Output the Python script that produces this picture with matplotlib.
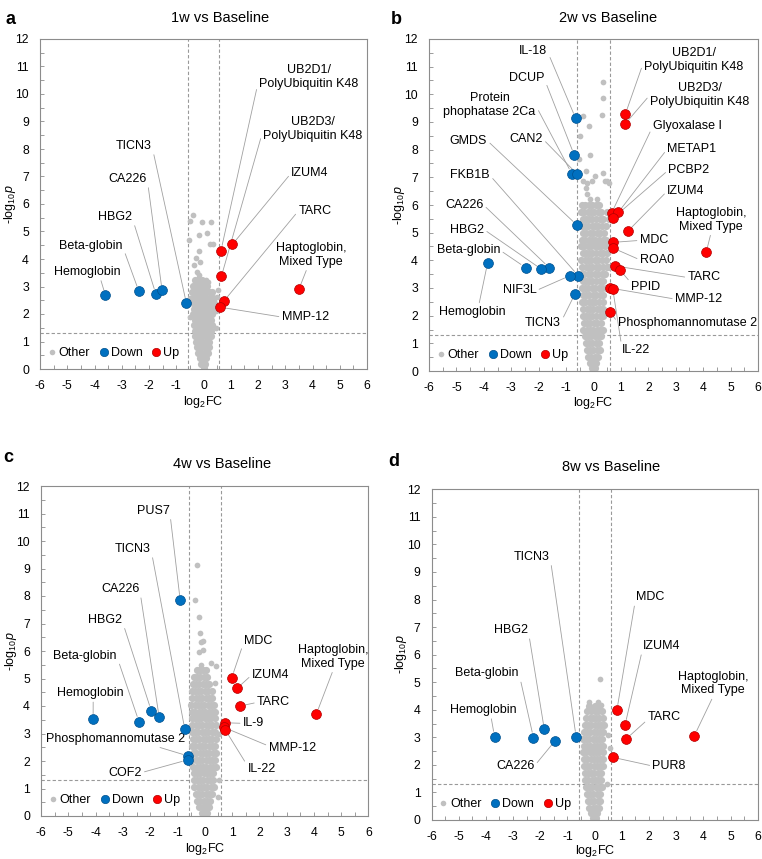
import matplotlib
matplotlib.use("Agg")
import matplotlib.pyplot as plt
from matplotlib.lines import Line2D
from matplotlib.ticker import MultipleLocator

plt.rcParams["font.family"] = ["Liberation Sans", "DejaVu Sans"]
plt.rcParams["mathtext.fontset"] = "custom"
plt.rcParams["mathtext.rm"] = "Liberation Sans"
plt.rcParams["mathtext.it"] = "Liberation Sans:italic"
plt.rcParams["mathtext.bf"] = "Liberation Sans:bold"
plt.rcParams["axes.unicode_minus"] = False

# ---------------- data ----------------
TITLES = ["1w vs Baseline", "2w vs Baseline", "4w vs Baseline", "8w vs Baseline"]
LETTERS = ["a", "b", "c", "d"]
FC_CUT = 0.585
P_CUT = 1.301
X_TICKS = list(range(-6, 7))
Y_TICKS = list(range(0, 13))

# ---- panel a ----
down_a_names = ["Hemoglobin", "Beta-globin", "HBG2", "CA226", "TICN3"]
down_a_x = [-3.60, -2.37, -1.75, -1.52, -0.63]
down_a_y = [2.68, 2.82, 2.73, 2.86, 2.40]
up_a_names = ["UB2D1/\nPolyUbiquitin K48", "IZUM4", "UB2D3/\nPolyUbiquitin K48",
              "TARC", "MMP-12", "Haptoglobin,\nMixed Type"]
up_a_x = [0.64, 1.06, 0.66, 0.74, 0.60, 3.50]
up_a_y = [4.30, 4.53, 3.38, 2.46, 2.25, 2.90]
other_a_rows = {
    3.22: [-0.33, -0.21, -0.06],
    3.01: [-0.39, -0.27, -0.13, 0.01, 0.12],
    2.80: [-0.41, -0.31, -0.19, -0.07, 0.06, 0.19, 0.30],
    2.60: [-0.36, -0.24, -0.13, -0.01, 0.11, 0.23, 0.34],
    2.40: [-0.40, -0.29, -0.17, -0.05, 0.07, 0.18, 0.29, 0.38],
    2.20: [-0.34, -0.23, -0.11, 0.02, 0.14, 0.25, 0.36],
    2.00: [-0.39, -0.28, -0.16, -0.04, 0.08, 0.21, 0.32],
    1.80: [-0.33, -0.22, -0.10, 0.02, 0.14, 0.26],
    1.60: [-0.36, -0.24, -0.12, 0.00, 0.12, 0.24, 0.33],
    1.40: [-0.30, -0.18, -0.06, 0.06, 0.18, 0.28],
    1.20: [-0.32, -0.20, -0.08, 0.04, 0.16, 0.26],
    1.00: [-0.28, -0.16, -0.04, 0.08, 0.20],
    0.80: [-0.24, -0.12, 0.00, 0.12, 0.22],
    0.60: [-0.20, -0.08, 0.04, 0.16],
    0.40: [-0.14, -0.02, 0.10],
    0.20: [-0.08, 0.04],
    0.05: [0.00],
}
other_a_extra = [(-0.40, 5.60), (-0.48, 5.38), (-0.07, 5.36), (0.27, 5.36), (0.14, 4.93),
                 (-0.15, 4.87), (-0.53, 4.69), (0.24, 4.53), (0.36, 4.53), (-0.15, 4.29),
                 (-0.27, 4.05), (-0.13, 3.90), (-0.34, 3.78), (-0.25, 3.54), (-0.15, 3.42),
                 (0.09, 3.24), (0.18, 3.18), (0.55, 2.87), (0.40, 2.55), (0.50, 2.62),
                 (0.46, 2.10), (-0.48, 2.60), (-0.50, 1.90), (0.45, 1.50)]

# ---- panel b ----
down_b_names = ["IL-18", "DCUP", "Protein\nphophatase 2Ca", "CAN2", "GMDS", "FKB1B",
                "NIF3L", "CA226", "HBG2", "Beta-globin", "Hemoglobin", "TICN3"]
down_b_x = [-0.65, -0.70, -0.79, -0.61, -0.60, -0.56, -0.87, -1.62, -1.90, -2.48, -3.86, -0.68]
down_b_y = [9.13, 7.80, 7.13, 7.13, 5.27, 3.45, 3.44, 3.74, 3.68, 3.74, 3.92, 2.78]
up_b_names = ["UB2D1/\nPolyUbiquitin K48", "UB2D3/\nPolyUbiquitin K48", "Glyoxalase I",
              "METAP1", "PCBP2", "IZUM4", "MDC", "ROA0", "TARC", "PPID", "MMP-12", "IL-22",
              "Phosphomannomutase 2", "Haptoglobin,\nMixed Type"]
up_b_x = [1.16, 1.16, 0.66, 0.90, 0.72, 1.25, 0.72, 0.70, 0.78, 0.96, 0.60, 0.70, 0.61, 4.11]
up_b_y = [9.28, 8.94, 5.71, 5.73, 5.53, 5.05, 4.65, 4.45, 3.80, 3.66, 3.00, 2.98, 2.13, 4.29]
other_b_rows = {
    6.00: [-0.42, -0.30, -0.18, -0.06, 0.08, 0.20],
    5.75: [-0.45, -0.33, -0.21, -0.09, 0.03, 0.16, 0.28, 0.50, 0.62],
    5.50: [-0.40, -0.28, -0.16, -0.04, 0.09, 0.22, 0.35, 0.55],
    5.25: [-0.43, -0.31, -0.19, -0.07, 0.06, 0.18, 0.31, 0.44],
    5.00: [-0.38, -0.26, -0.14, -0.02, 0.11, 0.24, 0.38],
    4.75: [-0.42, -0.30, -0.18, -0.06, 0.07, 0.20, 0.33, 0.46],
    4.50: [-0.45, -0.33, -0.21, -0.09, 0.04, 0.16, 0.29, 0.42],
    4.25: [-0.40, -0.28, -0.16, -0.04, 0.09, 0.22, 0.35, 0.50],
    4.00: [-0.44, -0.32, -0.20, -0.08, 0.05, 0.18, 0.31, 0.45],
    3.75: [-0.41, -0.29, -0.17, -0.05, 0.08, 0.21, 0.34, 0.48, 0.58],
    3.50: [-0.45, -0.33, -0.21, -0.09, 0.04, 0.17, 0.30, 0.43],
    3.25: [-0.40, -0.28, -0.16, -0.04, 0.09, 0.22, 0.35],
    3.00: [-0.43, -0.31, -0.19, -0.07, 0.06, 0.19, 0.32, 0.45],
    2.75: [-0.39, -0.27, -0.15, -0.03, 0.10, 0.23, 0.36],
    2.50: [-0.42, -0.30, -0.18, -0.06, 0.07, 0.20, 0.33],
    2.25: [-0.37, -0.25, -0.13, -0.01, 0.12, 0.25, 0.36],
    2.00: [-0.40, -0.28, -0.16, -0.04, 0.09, 0.22, 0.34],
    1.75: [-0.35, -0.23, -0.11, 0.01, 0.14, 0.27],
    1.50: [-0.37, -0.25, -0.13, -0.01, 0.12, 0.25, 0.34],
    1.25: [-0.32, -0.20, -0.08, 0.04, 0.17, 0.29],
    1.00: [-0.29, -0.17, -0.05, 0.08, 0.20],
    0.75: [-0.25, -0.13, -0.01, 0.12, 0.22],
    0.50: [-0.20, -0.08, 0.04, 0.16],
    0.30: [-0.14, -0.02, 0.10],
    0.12: [-0.07, 0.05],
}
other_b_extra = [(0.33, 10.45), (0.33, 9.88), (0.30, 9.25), (-0.37, 9.21), (-0.18, 8.87),
                 (-0.50, 8.51), (-0.13, 7.80), (-0.52, 7.66), (-0.26, 7.22), (0.33, 7.16),
                 (0.51, 6.86), (0.57, 6.80), (-0.37, 6.87), (-0.24, 6.80), (-0.05, 6.87),
                 (0.41, 6.86), (0.05, 7.04), (-0.27, 6.62), (-0.24, 6.38), (-0.12, 6.20),
                 (0.12, 6.20)]

# ---- panel c ----
down_c_names = ["PUS7", "TICN3", "CA226", "HBG2", "Beta-globin", "Hemoglobin",
                "Phosphomannomutase 2", "COF2"]
down_c_x = [-0.90, -0.73, -1.67, -1.96, -2.41, -4.09, -0.60, -0.63]
down_c_y = [7.85, 3.15, 3.59, 3.83, 3.43, 3.52, 2.18, 2.04]
up_c_names = ["MDC", "IZUM4", "TARC", "IL-9", "MMP-12", "IL-22", "Haptoglobin,\nMixed Type"]
up_c_x = [0.99, 1.18, 1.29, 0.75, 0.71, 0.76, 4.09]
up_c_y = [5.03, 4.64, 4.00, 3.39, 3.22, 3.12, 3.71]
other_c_rows = {
    5.30: [-0.30, -0.18, -0.06, 0.04],
    5.05: [-0.40, -0.28, -0.16, -0.04, 0.08],
    4.80: [-0.44, -0.32, -0.20, -0.08, 0.04, 0.16],
    4.55: [-0.48, -0.36, -0.24, -0.12, 0.00, 0.12, 0.25],
    4.30: [-0.45, -0.33, -0.21, -0.09, 0.03, 0.15, 0.27],
    4.05: [-0.49, -0.37, -0.25, -0.13, -0.01, 0.11, 0.23, 0.33],
    3.80: [-0.46, -0.34, -0.22, -0.10, 0.02, 0.14, 0.26, 0.37],
    3.55: [-0.48, -0.36, -0.24, -0.12, 0.00, 0.12, 0.24, 0.36],
    3.30: [-0.45, -0.33, -0.21, -0.09, 0.03, 0.15, 0.27, 0.40],
    3.05: [-0.47, -0.35, -0.23, -0.11, 0.01, 0.13, 0.25, 0.37],
    2.80: [-0.44, -0.32, -0.20, -0.08, 0.04, 0.16, 0.28, 0.40],
    2.55: [-0.46, -0.34, -0.22, -0.10, 0.02, 0.14, 0.26, 0.38],
    2.30: [-0.43, -0.31, -0.19, -0.07, 0.05, 0.17, 0.29, 0.41],
    2.05: [-0.45, -0.33, -0.21, -0.09, 0.03, 0.15, 0.27, 0.39],
    1.80: [-0.42, -0.30, -0.18, -0.06, 0.06, 0.18, 0.30, 0.40],
    1.55: [-0.40, -0.28, -0.16, -0.04, 0.08, 0.20, 0.32],
    1.30: [-0.41, -0.29, -0.17, -0.05, 0.07, 0.19, 0.31],
    1.05: [-0.38, -0.26, -0.14, -0.02, 0.10, 0.22, 0.34],
    0.80: [-0.33, -0.21, -0.09, 0.03, 0.15, 0.27],
    0.55: [-0.28, -0.16, -0.04, 0.08, 0.20],
    0.32: [-0.20, -0.08, 0.04, 0.16],
    0.12: [-0.10, 0.02, 0.10],
    0.03: [-0.03],
}
other_c_extra = [(-0.29, 9.13), (-0.35, 7.85), (-0.20, 7.25), (-0.17, 6.65), (-0.14, 6.34),
                 (-0.08, 6.36), (-0.20, 5.97), (-0.08, 6.04), (0.23, 5.55), (0.41, 5.45),
                 (-0.14, 5.50), (0.39, 4.85), (0.53, 3.00), (0.53, 1.30), (0.50, 0.70)]

# ---- panel d ----
down_d_names = ["Hemoglobin", "Beta-globin", "HBG2", "CA226", "TICN3"]
down_d_x = [-3.68, -2.25, -1.85, -1.45, -0.68]
down_d_y = [3.02, 2.99, 3.29, 2.88, 3.02]
up_d_names = ["MDC", "IZUM4", "TARC", "PUR8", "Haptoglobin,\nMixed Type"]
up_d_x = [0.82, 1.12, 1.16, 0.69, 3.67]
up_d_y = [3.99, 3.45, 2.94, 2.27, 3.06]
other_d_rows = {
    4.15: [-0.20, 0.00, 0.16],
    3.95: [-0.28, -0.14, 0.02, 0.14, 0.26],
    3.70: [-0.30, -0.18, -0.06, 0.06, 0.18, 0.30],
    3.45: [-0.36, -0.24, -0.12, 0.00, 0.12, 0.24, 0.35],
    3.20: [-0.40, -0.28, -0.16, -0.04, 0.08, 0.20, 0.32],
    2.95: [-0.43, -0.31, -0.19, -0.07, 0.05, 0.17, 0.29],
    2.70: [-0.40, -0.28, -0.16, -0.04, 0.08, 0.20, 0.32],
    2.45: [-0.42, -0.30, -0.18, -0.06, 0.06, 0.18, 0.30],
    2.20: [-0.39, -0.27, -0.15, -0.03, 0.09, 0.21, 0.31],
    1.95: [-0.40, -0.28, -0.16, -0.04, 0.08, 0.20, 0.30],
    1.70: [-0.37, -0.25, -0.13, -0.01, 0.11, 0.23],
    1.45: [-0.35, -0.23, -0.11, 0.01, 0.13, 0.25],
    1.20: [-0.32, -0.20, -0.08, 0.04, 0.16, 0.26],
    0.95: [-0.29, -0.17, -0.05, 0.07, 0.19],
    0.70: [-0.25, -0.13, -0.01, 0.11, 0.20],
    0.45: [-0.19, -0.07, 0.05, 0.15],
    0.25: [-0.12, 0.00, 0.10],
    0.08: [-0.05, 0.05],
}
other_d_extra = [(0.21, 5.12), (-0.19, 4.29), (0.12, 4.29), (0.24, 4.17), (0.51, 3.10),
                 (0.44, 1.31), (0.58, 2.60)]

# ---------------- layout (label placement, not data) ----------------
# name: (text x, text y, relpos of leader line on text box)
LAYOUT = [
    {
        "Hemoglobin": (-4.28, 3.53, (0.7, 0.0)),
        "Beta-globin": (-4.14, 4.47, (1, 0.5)),
        "HBG2": (-3.25, 5.53, (1, 0.5)),
        "CA226": (-2.77, 6.91, (1, 0.5)),
        "TICN3": (-2.55, 8.11, (1, 0.5)),
        "UB2D1/\nPolyUbiquitin K48": (3.87, 10.62, (0, 0.5)),
        "UB2D3/\nPolyUbiquitin K48": (4.02, 8.73, (0, 0.5)),
        "IZUM4": (3.91, 7.13, (0, 0.5)),
        "TARC": (4.09, 5.75, (0, 0.5)),
        "Haptoglobin,\nMixed Type": (3.94, 4.15, (0.45, 0.0)),
        "MMP-12": (3.73, 1.89, (0, 0.5)),
    },
    {
        "IL-18": (-2.20, 11.57, (1, 0.5)),
        "DCUP": (-2.45, 10.58, (1, 0.5)),
        "Protein\nphophatase 2Ca": (-3.79, 9.60, (1, 0.5)),
        "CAN2": (-2.46, 8.39, (1, 0.5)),
        "GMDS": (-4.56, 8.33, (1, 0.5)),
        "FKB1B": (-4.50, 7.07, (1, 0.5)),
        "CA226": (-4.72, 6.01, (1, 0.5)),
        "HBG2": (-4.61, 5.11, (1, 0.5)),
        "Beta-globin": (-4.56, 4.36, (1, 0.5)),
        "Hemoglobin": (-4.43, 2.15, (0.6, 1.0)),
        "NIF3L": (-2.70, 2.91, (1, 0.5)),
        "TICN3": (-1.85, 1.75, (1, 0.5)),
        "UB2D1/\nPolyUbiquitin K48": (3.66, 11.23, (0, 0.5)),
        "UB2D3/\nPolyUbiquitin K48": (3.87, 9.98, (0, 0.5)),
        "Glyoxalase I": (3.42, 8.85, (0, 0.5)),
        "METAP1": (3.59, 8.03, (0, 0.5)),
        "PCBP2": (3.48, 7.26, (0, 0.5)),
        "IZUM4": (3.37, 6.50, (0, 0.5)),
        "Haptoglobin,\nMixed Type": (4.29, 5.47, (0.5, 0.0)),
        "MDC": (2.20, 4.72, (0, 0.5)),
        "ROA0": (2.31, 4.02, (0, 0.5)),
        "TARC": (4.03, 3.38, (0, 0.5)),
        "PPID": (1.90, 3.05, (0, 0.8)),
        "MMP-12": (3.83, 2.60, (0, 0.5)),
        "Phosphomannomutase 2": (3.44, 1.73, (0, 0.5)),
        "IL-22": (1.55, 0.76, (0, 0.7)),
    },
    {
        "PUS7": (-1.89, 11.10, (1, 0.5)),
        "TICN3": (-2.63, 9.71, (1, 0.5)),
        "CA226": (-3.09, 8.25, (1, 0.5)),
        "HBG2": (-3.66, 7.13, (1, 0.5)),
        "Beta-globin": (-4.39, 5.82, (1, 0.5)),
        "Hemoglobin": (-4.21, 4.46, (0.55, 0.0)),
        "Phosphomannomutase 2": (-3.25, 2.81, (0.75, 0.0)),
        "COF2": (-2.92, 1.58, (1, 0.5)),
        "MDC": (1.97, 6.38, (0, 0.5)),
        "IZUM4": (2.41, 5.13, (0, 0.5)),
        "TARC": (2.52, 4.13, (0, 0.5)),
        "IL-9": (1.78, 3.37, (0, 0.5)),
        "MMP-12": (3.20, 2.46, (0, 0.7)),
        "IL-22": (2.08, 1.70, (0, 0.8)),
        "Haptoglobin,\nMixed Type": (4.71, 5.79, (0.5, 0.0)),
    },
    {
        "TICN3": (-2.30, 9.55, (1, 0.5)),
        "HBG2": (-3.07, 6.89, (1, 0.5)),
        "Beta-globin": (-3.95, 5.32, (1, 0.5)),
        "Hemoglobin": (-4.11, 3.99, (0.62, 0.0)),
        "CA226": (-2.92, 1.96, (1, 0.5)),
        "MDC": (2.04, 8.08, (0, 0.5)),
        "IZUM4": (2.48, 6.31, (0, 0.5)),
        "TARC": (2.56, 3.73, (0, 0.3)),
        "Haptoglobin,\nMixed Type": (4.36, 4.95, (0.5, 0.0)),
        "PUR8": (2.74, 1.96, (0, 0.5)),
    },
]

W, H = 762, 859
AX_PX = [(40, 39, 367, 369), (429, 39, 758, 371), (41, 486, 368.5, 816), (431.5, 489.3, 757.7, 820)]
TITLE_PX = [(220, 17.5), (607.7, 17.5), (221.7, 464), (611, 467)]
LETTER_PX = [(10, 20), (396, 19), (8, 458), (394, 462)]
XLABEL_OFF = [-0.075, -0.073, -0.077, -0.07]

GRAY = "#C0C0C0"
BLUE = "#0070C0"
BLUE_EDGE = "#00508C"
RED = "#FF0000"
RED_EDGE = "#B00000"
SPINE = "#8C8C8C"
LEAD = "#A0A0A0"

panels = [
    (other_a_rows, other_a_extra, down_a_names, down_a_x, down_a_y, up_a_names, up_a_x, up_a_y),
    (other_b_rows, other_b_extra, down_b_names, down_b_x, down_b_y, up_b_names, up_b_x, up_b_y),
    (other_c_rows, other_c_extra, down_c_names, down_c_x, down_c_y, up_c_names, up_c_x, up_c_y),
    (other_d_rows, other_d_extra, down_d_names, down_d_x, down_d_y, up_d_names, up_d_x, up_d_y),
]

fig = plt.figure(figsize=(W / 100, H / 100), dpi=100)

for i, (rows, extra, dn, dx, dy, un, ux, uy) in enumerate(panels):
    x0, y0, x1, y1 = AX_PX[i]
    ax = fig.add_axes([x0 / W, 1 - y1 / H, (x1 - x0) / W, (y1 - y0) / H])

    cx, cy = [], []
    for yv, xs in rows.items():
        for xv in xs:
            cx.append(xv)
            cy.append(yv)
    ex = [p[0] for p in extra]
    ey = [p[1] for p in extra]

    ax.axvline(-FC_CUT, color="#999999", lw=0.8, ls=(0, (3, 2)), zorder=1)
    ax.axvline(FC_CUT, color="#999999", lw=0.8, ls=(0, (3, 2)), zorder=1)
    ax.axhline(P_CUT, color="#999999", lw=0.8, ls=(0, (3, 2)), zorder=1)

    ax.scatter(cx, cy, s=27, c=GRAY, linewidths=0, zorder=2)
    ax.scatter(ex, ey, s=17, c=GRAY, linewidths=0, zorder=2)
    ax.scatter(dx, dy, s=50, c=BLUE, edgecolors=BLUE_EDGE, linewidths=0.5, zorder=4)
    ax.scatter(ux, uy, s=50, c=RED, edgecolors=RED_EDGE, linewidths=0.5, zorder=4)

    lay = LAYOUT[i]
    for names, xs, ys in ((dn, dx, dy), (un, ux, uy)):
        for nm, px, py in zip(names, xs, ys):
            if nm not in lay:
                continue
            tx, ty, rp = lay[nm]
            ax.annotate(nm, xy=(px, py), xytext=(tx, ty), textcoords="data",
                        ha="center", va="center", fontsize=9, zorder=3,
                        annotation_clip=False,
                        arrowprops=dict(arrowstyle="-", color=LEAD, lw=0.6,
                                        relpos=rp, shrinkA=0, shrinkB=4))

    ax.set_xlim(X_TICKS[0], X_TICKS[-1])
    ax.set_ylim(Y_TICKS[0], Y_TICKS[-1])
    ax.set_xticks(X_TICKS)
    ax.set_yticks(Y_TICKS)
    ax.xaxis.set_minor_locator(MultipleLocator(0.5))
    ax.yaxis.set_minor_locator(MultipleLocator(0.5))
    ax.tick_params(which="both", direction="in", length=3, width=0.6, color=SPINE,
                   labelsize=8.8, pad=8)
    for sp in ax.spines.values():
        sp.set_color(SPINE)
        sp.set_linewidth(0.8)

    ax.set_xlabel("log$_2$FC", fontsize=9)
    ax.xaxis.set_label_coords(0.5, XLABEL_OFF[i])
    ax.set_ylabel(r"-log$_{10}$$\mathit{p}$", fontsize=9)
    ax.yaxis.set_label_coords(-0.068, 0.5)

    handles = [
        Line2D([], [], marker="o", ls="", ms=4, mfc=GRAY, mec="none"),
        Line2D([], [], marker="o", ls="", ms=6, mfc=BLUE, mec=BLUE_EDGE, mew=0.5),
        Line2D([], [], marker="o", ls="", ms=6, mfc=RED, mec=RED_EDGE, mew=0.5),
    ]
    ax.legend(handles, ["Other", "Down", "Up"], loc="lower left",
              bbox_to_anchor=(0.02, 0.03), ncol=3, frameon=False,
              handlelength=0.8, handletextpad=0.15, columnspacing=0.7,
              borderpad=0, borderaxespad=0, fontsize=9)

    tx, ty = TITLE_PX[i]
    fig.text(tx / W, 1 - ty / H, TITLES[i], ha="center", va="center", fontsize=10.5)
    lx, ly = LETTER_PX[i]
    fig.text(lx / W, 1 - ly / H, LETTERS[i], ha="center", va="center",
             fontsize=13, fontweight="bold")

fig.savefig("out.png", dpi=100)
